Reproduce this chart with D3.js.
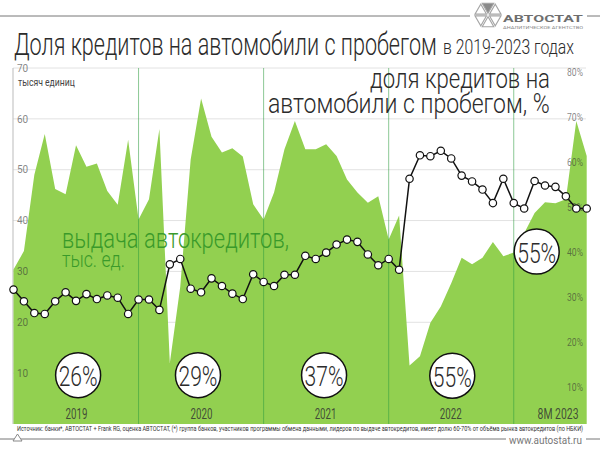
<!DOCTYPE html>
<html><head><meta charset="utf-8">
<script src="https://cdn.jsdelivr.net/npm/d3@7"></script>
<style>
html,body{margin:0;padding:0;background:#fff;}
svg{display:block;font-family:Roboto,"Noto Sans",sans-serif;}
</style></head>
<body>
<svg id="c" width="600" height="449"></svg>
<script>
// ---- data ----
const months = d3.range(56); // Jan 2019 .. Aug 2023 (month index)
const loans = [30.4,34,49,57,46.2,45.2,54.8,50.6,51.2,45.8,43.1,55.9,
  40.2,44.2,58,12,27,52,64,56.5,53.4,54.2,52.6,43.2,
  40.2,45.5,54,59.6,54,54,55,52.7,48.1,45.5,43.5,44.8,
  36.3,41,11.5,13.3,19.9,23.1,27.7,32.7,31.4,32.7,35.8,33,
  33.7,37.5,41.5,43.6,43.4,44.2,59.6,52.7];
const share = [31.6,29.0,26.4,26.2,29.0,31.0,29.1,30.6,29.5,30.3,29.8,26.2,
  29.4,29.4,27.1,37.2,38.4,31.8,31.0,34.1,32.4,30.7,29.5,35.0,
  33.3,32.4,34.9,34.9,39.1,38.4,39.8,41.6,42.7,42.2,39.4,37.0,
  38.4,36.0,56.2,61.4,61.2,62.4,60.7,56.9,55.6,53.8,50.8,56.2,
  50.8,49.6,55.7,54.7,54.4,52.3,49.6,49.6];
const yearStarts = [12,24,36,48];
const yearLabels = ["2019","2020","2021","2022","8M 2023"];
const yearLabelPos = [6,18,29.9,41.9,52.2];
const leftTicks = [10,20,30,40,50,60,70];
const rightTicks = [10,20,30,40,50,60,70,80];
const annualLabels = ["26%","29%","37%","55%","55%"];
const annualPos = [6.2,17.7,29.8,42.1,50.2];
const annualLevel = [9.6,9.6,9.6,9.5,33.9];

// ---- scales ----
const svg = d3.select("#c");
const x = d3.scaleLinear().domain([0,55]).range([13.5,586.7]);
const yL = d3.scaleLinear().domain([0,70]).range([424,68]);
const yR = d3.scaleLinear().domain([0,80]).range([432,71.5]);

// compress text horizontally to a target width (keeps real text)
function fit(sel, w){
  sel.each(function(d,i){
    const t = d3.select(this);
    const tw = typeof w === "function" ? w(d,i) : w;
    const x0 = +t.attr("x") || 0, y0 = +t.attr("y") || 0;
    const len = this.getComputedTextLength();
    if (!len) return;
    t.attr("x",0).attr("y",0)
     .attr("transform",`translate(${x0},${y0}) scale(${tw/len},1)`);
  });
  return sel;
}

// ---- header ----
svg.append("line").attr("x1",0).attr("x2",470).attr("y1",16).attr("y2",16).attr("stroke","#777").attr("stroke-width",1);
svg.append("line").attr("x1",587).attr("x2",600).attr("y1",16).attr("y2",16).attr("stroke","#777").attr("stroke-width",1);
const lg = svg.append("g").attr("transform","translate(488,15)");
const R = 14.5;
const hv = d3.range(6).map(k=>[R*Math.cos(Math.PI/3*k), -R*Math.sin(Math.PI/3*k)]);
d3.range(6).forEach(k=>{
  const a=[0,0], b=hv[k], c=hv[(k+1)%6];
  const cx=(a[0]+b[0]+c[0])/3, cy=(a[1]+b[1]+c[1])/3, s=0.8;
  const pts=[a,b,c].map(p=>[cx+(p[0]-cx)*s, cy+(p[1]-cy)*s]);
  lg.append("path").attr("d","M"+pts.map(p=>p.join(",")).join("L")+"Z")
    .attr("fill", k===1?"#8a8a8a":"none").attr("stroke","#a5a5a5").attr("stroke-width",1.1);
});
fit(svg.append("text").attr("x",503).attr("y",21.5).attr("font-size",9.5).attr("font-weight",700)
  .attr("fill","#6e6e6e").text("АВТОСТАТ"),80);
fit(svg.append("text").attr("x",503).attr("y",28.5).attr("font-size",3.6).attr("fill","#888")
  .text("АНАЛИТИЧЕСКОЕ АГЕНТСТВО"),80);

fit(svg.append("text").attr("x",14).attr("y",55).attr("font-size",32).attr("font-weight",300)
  .attr("fill","#2b2b2b").text("Доля кредитов на автомобили с пробегом"),423);
fit(svg.append("text").attr("x",443).attr("y",54).attr("font-size",21).attr("font-weight",300)
  .attr("fill","#2b2b2b").text("в 2019-2023 годах"),131);

// ---- grid ----
svg.append("g").selectAll("line").data(leftTicks).join("line")
  .attr("x1",13).attr("x2",586).attr("y1",d=>yL(d)).attr("y2",d=>yL(d))
  .attr("stroke","#e2e2e2").attr("stroke-width",1);
svg.append("line").attr("x1",13).attr("x2",13).attr("y1",yL(70)).attr("y2",yL(0))
  .attr("stroke","#bbb").attr("stroke-width",1);

// ---- area ----
const area = d3.area().x((d,i)=>x(i)).y0(yL(0)).y1(d=>yL(d));
svg.append("path").datum(loans).attr("d",area).attr("fill","#92d050");

svg.append("g").selectAll("line").data(yearStarts).join("line")
  .attr("x1",d=>x(d)).attr("x2",d=>x(d)).attr("y1",yL(70)).attr("y2",yL(0))
  .attr("stroke","#2e9a3e").attr("stroke-opacity",0.55).attr("stroke-width",1);

// ---- axes ----
const gl = svg.append("g").attr("transform","translate(17,0)")
  .call(d3.axisRight(yL).tickValues(leftTicks).tickSize(0).tickPadding(0).tickFormat(d3.format("d")));
gl.select(".domain").remove();
gl.selectAll("text").attr("font-size",10).attr("fill","#333").attr("fill-opacity",0.6)
  .attr("font-family","Roboto,sans-serif");
fit(svg.append("text").attr("x",18).attr("y",86).attr("font-size",10).attr("fill","#444")
  .text("тысяч единиц"),57);

const gr = svg.append("g").attr("transform","translate(567,0)")
  .call(d3.axisRight(yR).tickValues(rightTicks).tickSize(0).tickPadding(0).tickFormat(d=>d+"%"));
gr.select(".domain").remove();
gr.selectAll("text").attr("font-size",10).attr("fill","#333").attr("fill-opacity",0.6)
  .attr("font-family","Roboto,sans-serif").attr("dy",null).attr("dominant-baseline","central");
fit(gr.selectAll("text"),16);

const gb = svg.append("g").attr("transform","translate(0,410)")
  .call(d3.axisBottom(x).tickValues(yearLabelPos).tickSize(0).tickPadding(0).tickFormat((d,i)=>yearLabels[i]));
gb.select(".domain").remove();
gb.selectAll("text").attr("font-size",14).attr("fill","#333").attr("fill-opacity",0.85)
  .attr("font-family","Roboto,sans-serif").attr("dy",null).attr("dominant-baseline","central").attr("y",4);
fit(gb.selectAll("text"),(d,i)=>i===4?41:22);

// ---- labels ----
fit(svg.append("text").attr("x",62).attr("y",248).attr("font-size",28).attr("font-weight",300)
  .attr("fill","#3a9a2a").text("выдача автокредитов,"),227);
fit(svg.append("text").attr("x",62).attr("y",267).attr("font-size",22).attr("font-weight",300)
  .attr("fill","#3a9a2a").text("тыс. ед."),63);
fit(svg.append("text").attr("x",370).attr("y",88).attr("font-size",28).attr("font-weight",300)
  .attr("fill","#2b2b2b").text("доля кредитов на"),180);
fit(svg.append("text").attr("x",268).attr("y",113).attr("font-size",28).attr("font-weight",300)
  .attr("fill","#2b2b2b").text("автомобили с пробегом, %"),282);

// ---- share line ----
const line = d3.line().x((d,i)=>x(i)).y(d=>yR(d));
svg.append("path").datum(share).attr("d",line).attr("fill","none").attr("stroke","#111").attr("stroke-width",1.5);
svg.append("g").selectAll("circle").data(share).join("circle")
  .attr("cx",(d,i)=>x(i)).attr("cy",d=>yR(d)).attr("r",3.7)
  .attr("fill","#fff").attr("stroke","#111").attr("stroke-width",1.2);

// ---- annual share bubbles ----
const ann = svg.append("g").selectAll("g").data(annualLabels).join("g")
  .attr("transform",(d,i)=>`translate(${x(annualPos[i])},${yL(annualLevel[i])})`);
ann.append("circle").attr("r",22.5).attr("fill","#fff").attr("stroke","#111").attr("stroke-width",1.5);
fit(ann.append("text").attr("text-anchor","middle").attr("y",11).attr("font-size",28).attr("font-weight",300)
  .attr("fill","#2b2b2b").text(d=>d),39);

// ---- footer ----
fit(svg.append("text").attr("x",17).attr("y",431).attr("font-size",7).attr("fill","#333")
  .text("Источник: банки*, АВТОСТАТ + Frank RG, оценка АВТОСТАТ, (*) группа банков, участников программы обмена данными, лидеров по выдаче автокредитов, имеет долю 60-70% от объёма рынка автокредитов (по НБКИ)"),568);
svg.append("line").attr("x1",0).attr("x2",506).attr("y1",439).attr("y2",439).attr("stroke","#777");
svg.append("line").attr("x1",586).attr("x2",600).attr("y1",439).attr("y2",439).attr("stroke","#777");
svg.append("path").attr("d","M13,441L17.5,434L22,441Z").attr("fill","#fff").attr("stroke","#888").attr("stroke-width",1);
fit(svg.append("text").attr("x",509).attr("y",443.5).attr("font-size",10.5).attr("fill","#777")
  .text("www.autostat.ru"),73);
</script>
</body></html>
